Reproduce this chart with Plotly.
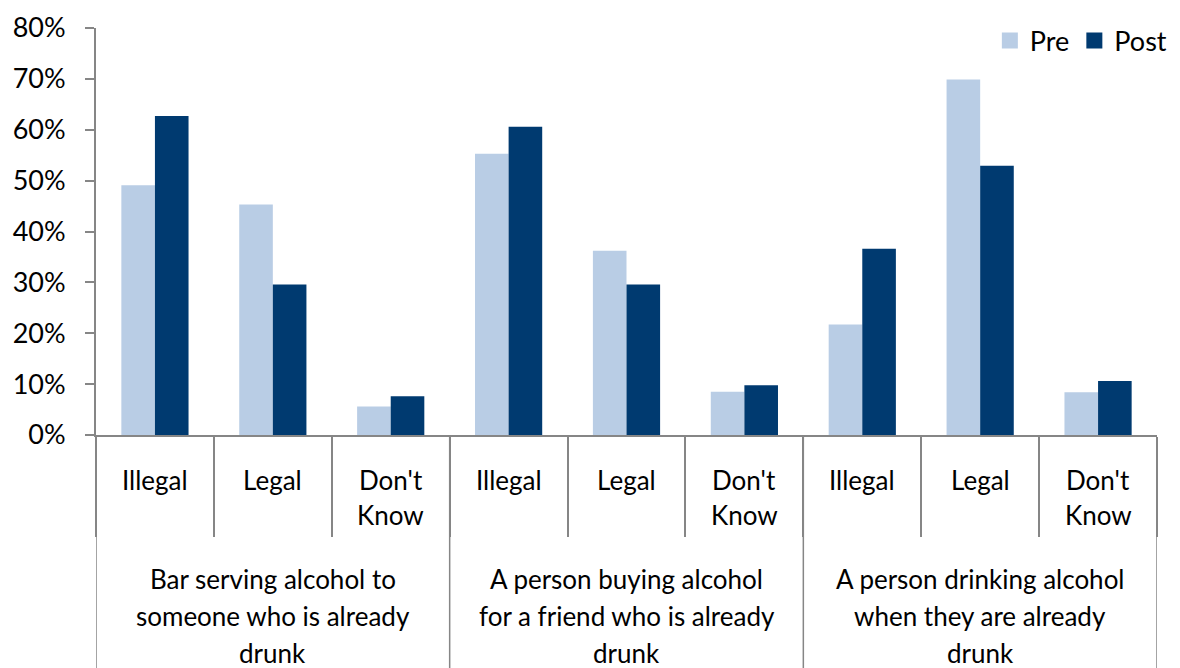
import plotly.graph_objects as go

# Survey responses: share who consider each situation illegal / legal / don't know
group_lines = [
    ["Bar serving alcohol to", "someone who is already", "drunk"],
    ["A person buying alcohol", "for a friend who is already", "drunk"],
    ["A person drinking alcohol", "when they are already", "drunk"],
]
answer_lines = [["Illegal"], ["Legal"], ["Don't", "Know"]]

series_names = ["Pre", "Post"]
pre = [0.491, 0.453, 0.056, 0.553, 0.362, 0.085, 0.217, 0.699, 0.084]
post = [0.627, 0.296, 0.076, 0.606, 0.296, 0.098, 0.366, 0.529, 0.106]

# one category slot per (situation, answer) pair
slots = [f"{gi}:{' '.join(a)}" for gi in range(len(group_lines)) for a in answer_lines]

PRE_COLOR = "#B9CDE5"
POST_COLOR = "#003A70"
AXIS_COLOR = "#868686"
FONT = "Lato"
SIZE = 26

W, H = 1180, 668
M_L, M_R, M_T, M_B = 96, 23, 28, 233
plot_h = H - M_T - M_B


def paper_y(px):
    """Convert a pixel row below the top of the page into paper y."""
    return (H - M_B - px) / plot_h


fig = go.Figure()
for name, values, color in zip(series_names, [pre, post], [PRE_COLOR, POST_COLOR]):
    fig.add_trace(go.Bar(
        name=name, x=slots, y=values, legendgroup=name, showlegend=False,
        marker=dict(color=color, line=dict(width=0)),
    ))
    # legend key: a larger square swatch than the default bar key
    fig.add_trace(go.Scatter(
        name=name, x=[None], y=[None], mode="markers", legendgroup=name,
        marker=dict(symbol="square", size=16, color=color, line=dict(width=0)),
        hoverinfo="skip",
    ))

annotations = []
# answer labels under each slot
sub_rows = [480, 515]
for gi in range(len(group_lines)):
    for ai, lines in enumerate(answer_lines):
        key = slots[gi * len(answer_lines) + ai]
        for li, text in enumerate(lines):
            annotations.append(dict(
                x=key, xref="x", y=paper_y(sub_rows[li]), yref="paper",
                text=text, showarrow=False, xanchor="center", yanchor="middle",
                font=dict(family=FONT, size=SIZE, color="#000000"),
            ))
# situation labels under each group of three slots
group_rows = [579, 616, 653]
for gi, lines in enumerate(group_lines):
    key = slots[gi * len(answer_lines) + 1]
    for li, text in enumerate(lines):
        annotations.append(dict(
            x=key, xref="x", y=paper_y(group_rows[li]), yref="paper",
            text=text, showarrow=False, xanchor="center", yanchor="middle",
            font=dict(family=FONT, size=SIZE, color="#000000"),
        ))

# dividers between situations, running to the bottom of the page
shapes = []
for b in range(len(group_lines) + 1):
    xpos = b * len(answer_lines) - 0.5
    shapes.append(dict(
        type="line", xref="x", yref="paper",
        x0=xpos, x1=xpos, y0=0, y1=paper_y(H + 5),
        line=dict(color=AXIS_COLOR, width=1.5),
    ))

fig.update_layout(
    width=W,
    height=H,
    margin=dict(l=M_L, r=M_R, t=M_T, b=M_B, autoexpand=False),
    barmode="group",
    bargap=0.43,
    bargroupgap=0,
    plot_bgcolor="white",
    paper_bgcolor="white",
    font=dict(family=FONT, size=SIZE, color="#000000"),
    showlegend=True,
    legend=dict(
        orientation="h",
        x=1.014,
        xanchor="right",
        y=paper_y(41),
        yanchor="middle",
        font=dict(family=FONT, size=27),
        bgcolor="rgba(0,0,0,0)",
        traceorder="normal",
        itemwidth=30,
        itemclick=False,
    ),
    annotations=annotations,
    shapes=shapes,
)

fig.update_xaxes(
    type="category",
    showline=True,
    linecolor=AXIS_COLOR,
    linewidth=2,
    ticks="outside",
    tickson="boundaries",
    ticklen=100,
    tickcolor=AXIS_COLOR,
    tickwidth=1.5,
    showticklabels=False,
    showgrid=False,
    range=[-0.5, len(slots) - 0.5],
)

fig.update_yaxes(
    range=[0, 0.8],
    dtick=0.1,
    tickformat=".0%",
    showline=True,
    linecolor=AXIS_COLOR,
    linewidth=2,
    ticks="outside",
    ticklen=9,
    tickcolor=AXIS_COLOR,
    tickwidth=1.5,
    ticklabelstandoff=14,
    showgrid=False,
    zeroline=False,
    tickfont=dict(family=FONT, size=27, color="#000000"),
)

fig.write_html("out.html")
